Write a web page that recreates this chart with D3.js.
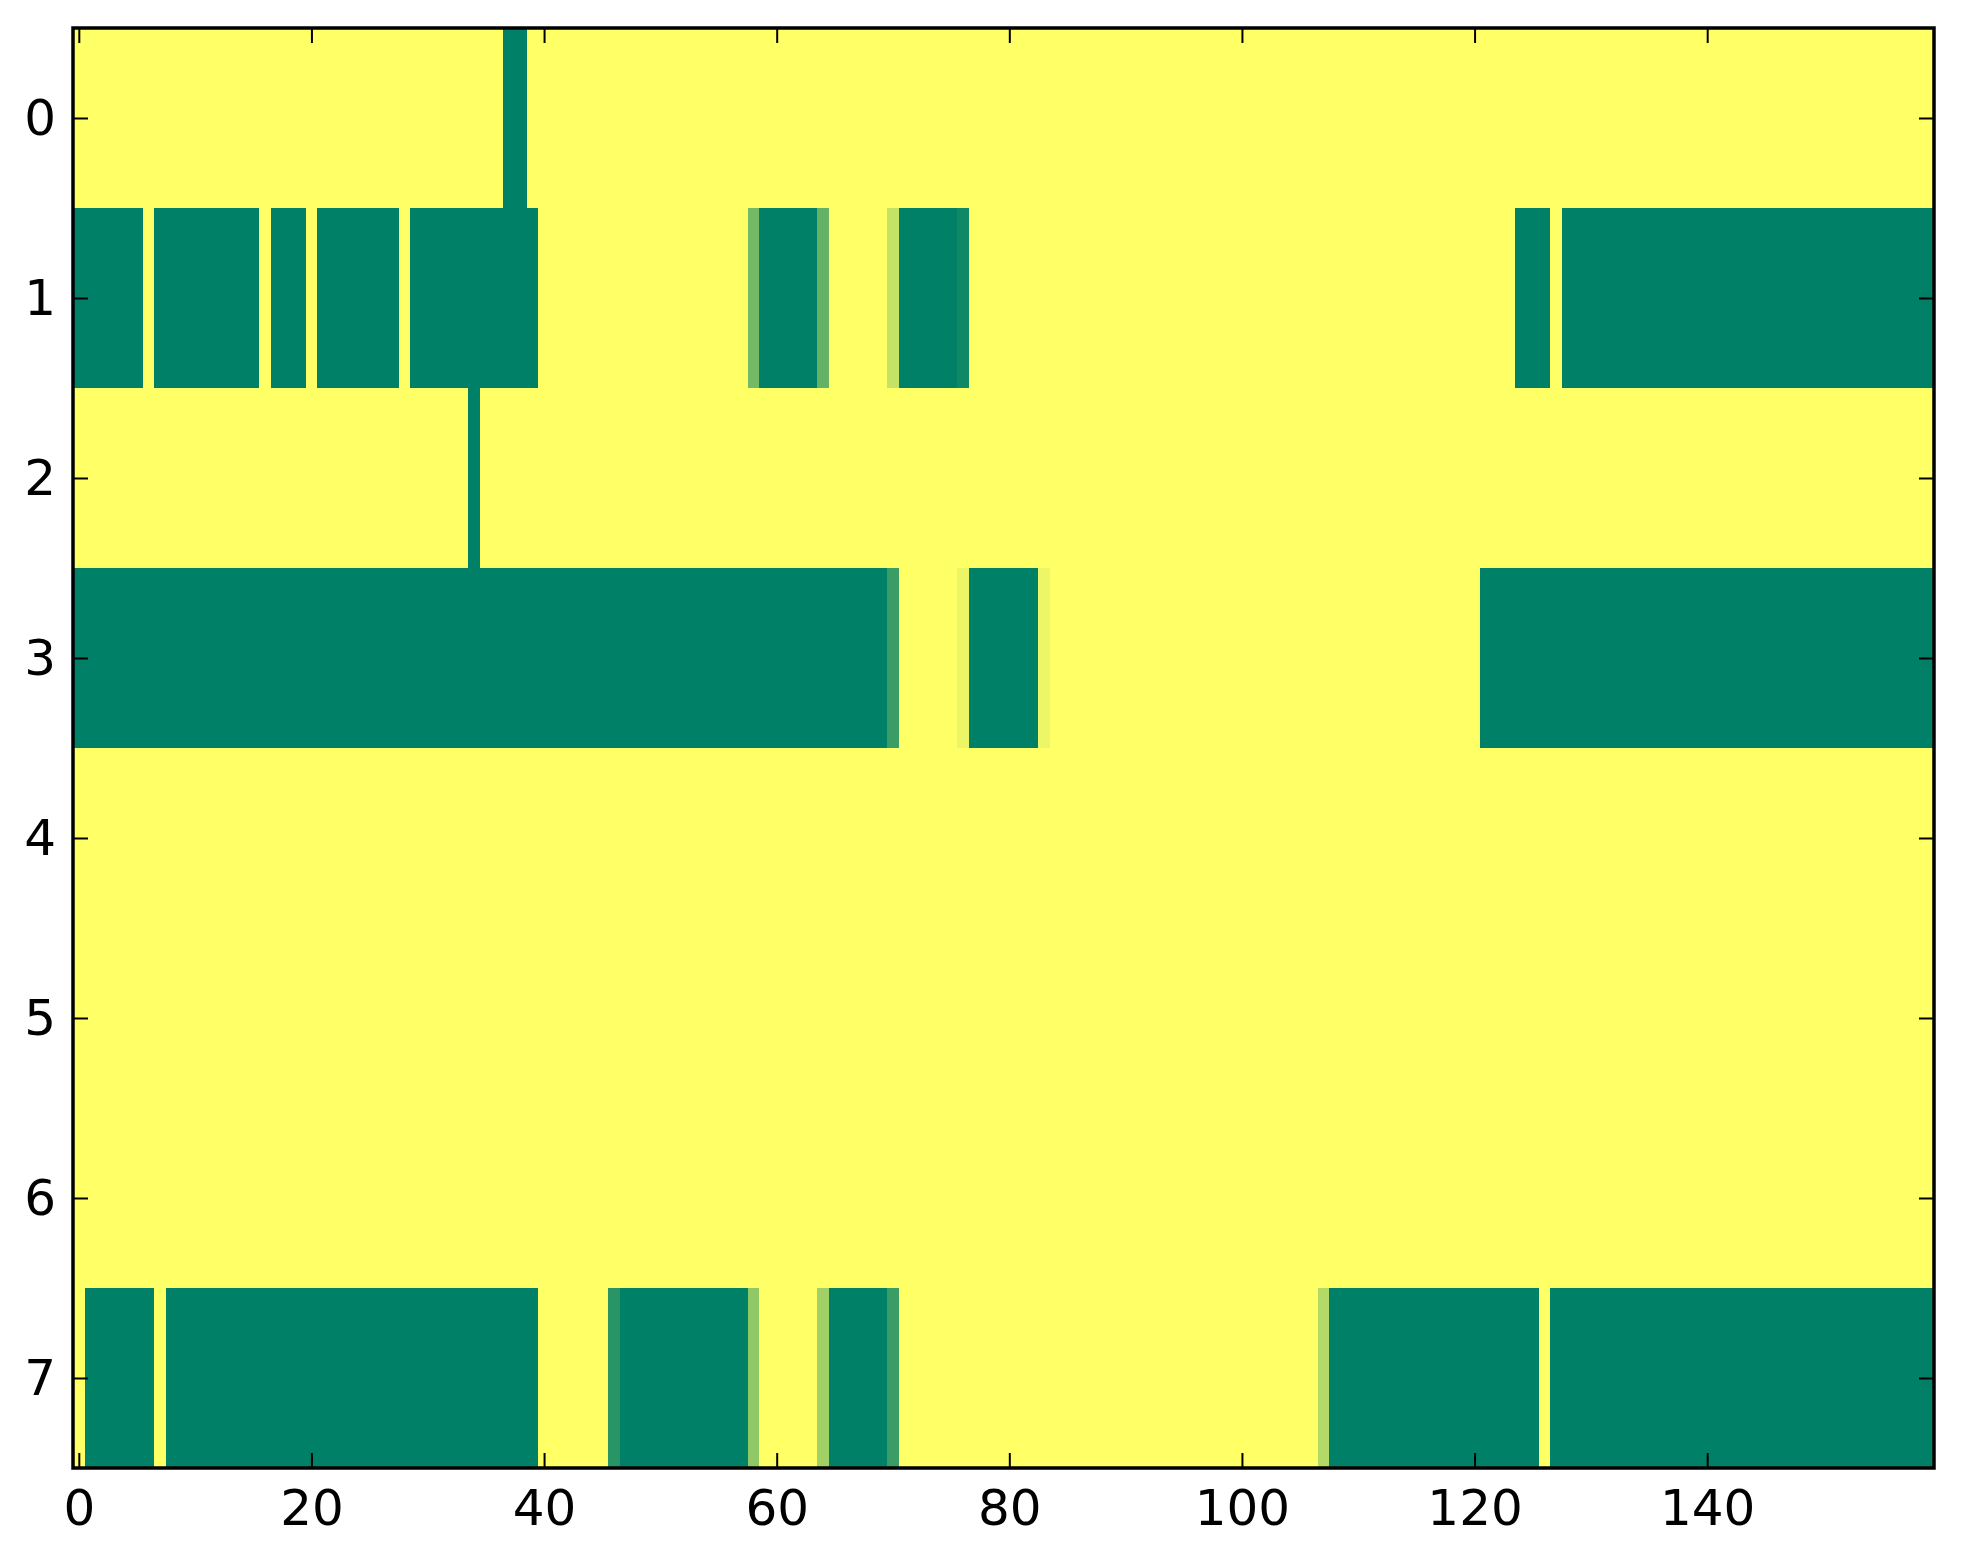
<!DOCTYPE html>
<html>
<head>
<meta charset="utf-8">
<script src="https://cdn.jsdelivr.net/npm/d3@7"></script>
<style>
  body { margin: 0; background: #fff; }
  text { font-family: "DejaVu Sans", sans-serif; }
</style>
</head>
<body>
<div id="chart"><svg></svg></div>
<script>
// row labels (y) and column tick labels (x)
const ROWS = [0, 1, 2, 3, 4, 5, 6, 7];
const X_TICKS = [0, 20, 40, 60, 80, 100, 120, 140];
const N_COLS = 160;

// cell values per row, 0 = green, 1 = yellow
const ROW_0 = [
  1,1,1,1,1,1,1,1,1,1, 1,1,1,1,1,1,1,1,1,1, 1,1,1,1,1,1,1,1,1,1, 1,1,1,1,1,1,1,0,0,1,
  1,1,1,1,1,1,1,1,1,1, 1,1,1,1,1,1,1,1,1,1, 1,1,1,1,1,1,1,1,1,1, 1,1,1,1,1,1,1,1,1,1,
  1,1,1,1,1,1,1,1,1,1, 1,1,1,1,1,1,1,1,1,1, 1,1,1,1,1,1,1,1,1,1, 1,1,1,1,1,1,1,1,1,1,
  1,1,1,1,1,1,1,1,1,1, 1,1,1,1,1,1,1,1,1,1, 1,1,1,1,1,1,1,1,1,1, 1,1,1,1,1,1,1,1,1,1
];
const ROW_1 = [
  0,0,0,0,0,0,1,0,0,0, 0,0,0,0,0,0,1,0,0,0, 1,0,0,0,0,0,0,0,1,0, 0,0,0,0,0,0,0,0,0,0,
  1,1,1,1,1,1,1,1,1,1, 1,1,1,1,1,1,1,1,0.45,0, 0,0,0,0,0.39,1,1,1,1,1, 0.77,0,0,0,0,0,0.06,1,1,1,
  1,1,1,1,1,1,1,1,1,1, 1,1,1,1,1,1,1,1,1,1, 1,1,1,1,1,1,1,1,1,1, 1,1,1,1,1,1,1,1,1,1,
  1,1,1,1,0,0,0,1,0,0, 0,0,0,0,0,0,0,0,0,0, 0,0,0,0,0,0,0,0,0,0, 0,0,0,0,0,0,0,0,0,0
];
const ROW_2 = [
  1,1,1,1,1,1,1,1,1,1, 1,1,1,1,1,1,1,1,1,1, 1,1,1,1,1,1,1,1,1,1, 1,1,1,1,0,1,1,1,1,1,
  1,1,1,1,1,1,1,1,1,1, 1,1,1,1,1,1,1,1,1,1, 1,1,1,1,1,1,1,1,1,1, 1,1,1,1,1,1,1,1,1,1,
  1,1,1,1,1,1,1,1,1,1, 1,1,1,1,1,1,1,1,1,1, 1,1,1,1,1,1,1,1,1,1, 1,1,1,1,1,1,1,1,1,1,
  1,1,1,1,1,1,1,1,1,1, 1,1,1,1,1,1,1,1,1,1, 1,1,1,1,1,1,1,1,1,1, 1,1,1,1,1,1,1,1,1,1
];
const ROW_3 = [
  0,0,0,0,0,0,0,0,0,0, 0,0,0,0,0,0,0,0,0,0, 0,0,0,0,0,0,0,0,0,0, 0,0,0,0,0,0,0,0,0,0,
  0,0,0,0,0,0,0,0,0,0, 0,0,0,0,0,0,0,0,0,0, 0,0,0,0,0,0,0,0,0,0, 0.23,1,1,1,1,1,0.92,0,0,0,
  0,0,0,0.93,1,1,1,1,1,1, 1,1,1,1,1,1,1,1,1,1, 1,1,1,1,1,1,1,1,1,1, 1,1,1,1,1,1,1,1,1,1,
  1,0,0,0,0,0,0,0,0,0, 0,0,0,0,0,0,0,0,0,0, 0,0,0,0,0,0,0,0,0,0, 0,0,0,0,0,0,0,0,0,0
];
const ROW_4 = [
  1,1,1,1,1,1,1,1,1,1, 1,1,1,1,1,1,1,1,1,1, 1,1,1,1,1,1,1,1,1,1, 1,1,1,1,1,1,1,1,1,1,
  1,1,1,1,1,1,1,1,1,1, 1,1,1,1,1,1,1,1,1,1, 1,1,1,1,1,1,1,1,1,1, 1,1,1,1,1,1,1,1,1,1,
  1,1,1,1,1,1,1,1,1,1, 1,1,1,1,1,1,1,1,1,1, 1,1,1,1,1,1,1,1,1,1, 1,1,1,1,1,1,1,1,1,1,
  1,1,1,1,1,1,1,1,1,1, 1,1,1,1,1,1,1,1,1,1, 1,1,1,1,1,1,1,1,1,1, 1,1,1,1,1,1,1,1,1,1
];
const ROW_5 = ROW_4.slice();
const ROW_6 = ROW_4.slice();
const ROW_7 = [
  1,0,0,0,0,0,0,1,0,0, 0,0,0,0,0,0,0,0,0,0, 0,0,0,0,0,0,0,0,0,0, 0,0,0,0,0,0,0,0,0,0,
  1,1,1,1,1,1,0.16,0,0,0, 0,0,0,0,0,0,0,0,0.57,1, 1,1,1,1,0.63,0,0,0,0,0, 0.23,1,1,1,1,1,1,1,1,1,
  1,1,1,1,1,1,1,1,1,1, 1,1,1,1,1,1,1,1,1,1, 1,1,1,1,1,1,1,0.70,0,0, 0,0,0,0,0,0,0,0,0,0,
  0,0,0,0,0,0,1,0,0,0, 0,0,0,0,0,0,0,0,0,0, 0,0,0,0,0,0,0,0,0,0, 0,0,0,0,0,0,0,0,0,0
];
const VALUES = [ROW_0, ROW_1, ROW_2, ROW_3, ROW_4, ROW_5, ROW_6, ROW_7];

const WIDTH = 1963;
const HEIGHT = 1564;
const PLOT = { left: 73, right: 1934, top: 28, bottom: 1468 };

const svg = d3.select('#chart').select('svg')
  .attr('width', WIDTH)
  .attr('height', HEIGHT);

const xScale = d3.scaleLinear().domain([-0.5, N_COLS - 0.5]).range([PLOT.left, PLOT.right]);
const yScale = d3.scaleLinear().domain([-0.5, ROWS.length - 0.5]).range([PLOT.top, PLOT.bottom]);
// matplotlib "summer" colormap
const color = d3.scaleLinear().domain([0, 1]).range(['#008066', '#ffff66']);

const cells = [];
VALUES.forEach((row, r) => row.forEach((v, c) => cells.push({ r, c, v })));

svg.append('g')
  .selectAll('rect')
  .data(cells)
  .enter()
  .append('rect')
  .attr('x', d => xScale(d.c - 0.5))
  .attr('y', d => yScale(d.r - 0.5))
  .attr('width', d => xScale(d.c + 0.5) - xScale(d.c - 0.5) + 0.4)
  .attr('height', d => yScale(d.r + 0.5) - yScale(d.r - 0.5) + 0.4)
  .attr('fill', d => color(d.v))
  .attr('shape-rendering', 'crispEdges');

const TICK = 15;
const styleAxis = g => {
  g.select('.domain').remove();
  g.selectAll('.tick line').attr('stroke', '#000').attr('stroke-width', 2);
  g.selectAll('.tick text').attr('font-size', 50).attr('fill', '#000')
    .attr('font-family', '"DejaVu Sans", sans-serif');
};

svg.append('g')
  .attr('transform', `translate(0, ${PLOT.bottom})`)
  .call(d3.axisBottom(xScale).tickValues(X_TICKS).tickSize(-TICK).tickPadding(21).tickFormat(d3.format('d')))
  .call(styleAxis);

svg.append('g')
  .attr('transform', `translate(0, ${PLOT.top})`)
  .call(d3.axisTop(xScale).tickValues(X_TICKS).tickSize(-TICK).tickFormat(''))
  .call(styleAxis);

svg.append('g')
  .attr('transform', `translate(${PLOT.left}, 0)`)
  .call(d3.axisLeft(yScale).tickValues(ROWS).tickSize(-TICK).tickPadding(17).tickFormat(d3.format('d')))
  .call(styleAxis);

svg.append('g')
  .attr('transform', `translate(${PLOT.right}, 0)`)
  .call(d3.axisRight(yScale).tickValues(ROWS).tickSize(-TICK).tickFormat(''))
  .call(styleAxis);

svg.append('rect')
  .attr('x', PLOT.left)
  .attr('y', PLOT.top)
  .attr('width', PLOT.right - PLOT.left)
  .attr('height', PLOT.bottom - PLOT.top)
  .attr('fill', 'none')
  .attr('stroke', '#000')
  .attr('stroke-width', 3.5);
</script>
</body>
</html>
